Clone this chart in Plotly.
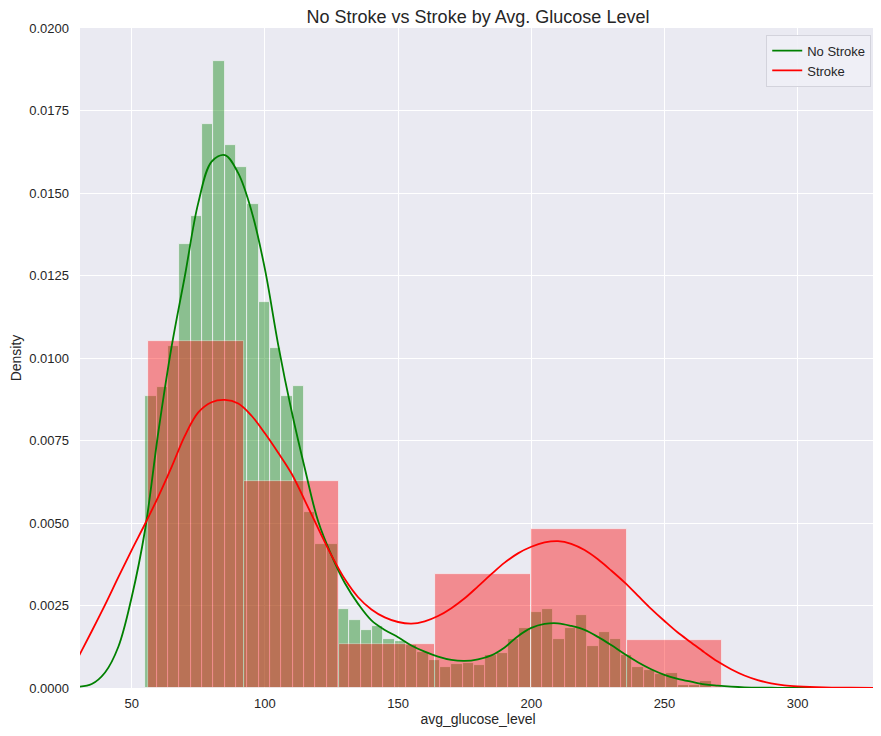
import numpy as np
import plotly.graph_objects as go

# ---- data ----
# No Stroke histogram: 50 equal bins between these limits (density)
no_stroke_bin_start = 55.12
no_stroke_bin_end = 267.76
no_stroke_density = [
    0.00886, 0.00912, 0.01036, 0.01344, 0.01429, 0.01709, 0.01900, 0.01646, 0.01579, 0.01467,
    0.01171, 0.01030, 0.00886, 0.00916, 0.00533, 0.00437, 0.00437, 0.00239, 0.00206, 0.00177,
    0.00188, 0.00149, 0.00142, 0.00131, 0.00108, 0.00084, 0.00065, 0.00074, 0.00077, 0.00070,
    0.00100, 0.00105, 0.00150, 0.00182, 0.00229, 0.00239, 0.00148, 0.00181, 0.00220, 0.00128,
    0.00171, 0.00148, 0.00100, 0.00065, 0.00055, 0.00043, 0.00046, 0.00009, 0.00009, 0.00020,
]

# Stroke histogram: 6 equal bins
stroke_bin_start = 56.11
stroke_bin_end = 271.74
stroke_density = [0.010504, 0.006258, 0.001341, 0.003464, 0.004805, 0.001453]

# KDE curves (every 5 units)
kde_x = [30, 35, 40, 45, 50, 55, 60, 65, 70, 75, 80, 85, 90, 95, 100, 105, 110, 115, 120, 125,
         130, 135, 140, 145, 150, 155, 160, 165, 170, 175, 180, 185, 190, 195, 200, 205, 210, 215,
         220, 225, 230, 235, 240, 245, 250, 255, 260, 265, 270, 275, 280, 285, 290, 295, 300, 310,
         320, 330]
no_stroke_kde = [0.00004, 0.00012, 0.00047, 0.00125, 0.00275, 0.00478, 0.00775, 0.01035, 0.01250,
                 0.01470, 0.01595, 0.01615, 0.01560, 0.01445, 0.01270, 0.01040, 0.00840, 0.00665,
                 0.00505, 0.00402, 0.00318, 0.00255, 0.00205, 0.00176, 0.00154, 0.00129, 0.00110,
                 0.00095, 0.00085, 0.00082, 0.00087, 0.00099, 0.00123, 0.00157, 0.00182, 0.00194,
                 0.00196, 0.00188, 0.00176, 0.00155, 0.00130, 0.00103, 0.00078, 0.00057, 0.00040,
                 0.00028, 0.00019, 0.00011, 0.00007, 0.00004, 0.00002, 0.00001, 0.00001, 0.00000,
                 0.00000, 0.00000, 0.00000, 0.00000]
stroke_kde = [0.00094, 0.00172, 0.00252, 0.00336, 0.00418, 0.00497, 0.00580, 0.00670, 0.00765,
              0.00835, 0.00866, 0.00873, 0.00862, 0.00825, 0.00772, 0.00713, 0.00650, 0.00568,
              0.00484, 0.00402, 0.00330, 0.00275, 0.00238, 0.00214, 0.00200, 0.00195, 0.00202,
              0.00218, 0.00242, 0.00272, 0.00308, 0.00345, 0.00380, 0.00408, 0.00428, 0.00441,
              0.00445, 0.00437, 0.00418, 0.00390, 0.00356, 0.00320, 0.00280, 0.00240, 0.00203,
              0.00168, 0.00138, 0.00108, 0.00080, 0.00057, 0.00038, 0.00024, 0.00014, 0.00008,
              0.00005, 0.00002, 0.00001, 0.00000]

y_ticks = [0.0, 0.0025, 0.005, 0.0075, 0.01, 0.0125, 0.015, 0.0175, 0.02]
x_ticks = [50, 100, 150, 200, 250, 300]

# ---- derived bar geometry ----
ns_edges = np.linspace(no_stroke_bin_start, no_stroke_bin_end, len(no_stroke_density) + 1)
ns_centers = (ns_edges[:-1] + ns_edges[1:]) / 2
ns_width = ns_edges[1] - ns_edges[0]
st_edges = np.linspace(stroke_bin_start, stroke_bin_end, len(stroke_density) + 1)
st_centers = (st_edges[:-1] + st_edges[1:]) / 2
st_width = st_edges[1] - st_edges[0]

FONT = "Liberation Sans, Arial, sans-serif"
TXT = "#262626"

fig = go.Figure()
fig.add_trace(go.Bar(
    x=ns_centers, y=no_stroke_density, width=[ns_width] * len(ns_centers),
    marker=dict(color="green", line=dict(color="white", width=0.8)),
    opacity=0.4, showlegend=False, hoverinfo="skip"))
fig.add_trace(go.Bar(
    x=st_centers, y=stroke_density, width=[st_width] * len(st_centers),
    marker=dict(color="red", line=dict(color="white", width=0.8)),
    opacity=0.4, showlegend=False, hoverinfo="skip"))
fig.add_trace(go.Scatter(
    x=kde_x, y=no_stroke_kde, mode="lines", name="No Stroke",
    line=dict(color="green", width=1.8, shape="spline", smoothing=1.0)))
fig.add_trace(go.Scatter(
    x=kde_x, y=stroke_kde, mode="lines", name="Stroke",
    line=dict(color="red", width=1.8, shape="spline", smoothing=1.0)))

# page body has an 8px default margin, so the figure is sized to fit the window
fig.update_layout(
    width=873, height=728,
    margin=dict(l=70, r=5, t=20, b=48),
    paper_bgcolor="white", plot_bgcolor="#EAEAF2",
    barmode="overlay", bargap=0,
    font=dict(family=FONT, size=13, color=TXT),
    title=dict(text="No Stroke vs Stroke by Avg. Glucose Level",
               x=0.5, xref="paper", xanchor="center",
               y=1 - 8.5 / 728, yref="container", yanchor="middle",
               font=dict(family=FONT, size=18, color=TXT)),
    legend=dict(x=0.994, xanchor="right", y=0.99, yanchor="top",
                bgcolor="rgba(240,240,246,0.9)", bordercolor="#d3d3dc", borderwidth=1,
                font=dict(family=FONT, size=13, color=TXT)),
    showlegend=True,
)
fig.update_xaxes(
    range=[30.6, 329.4], tickvals=x_ticks, showgrid=True, gridcolor="white", gridwidth=1.2,
    zeroline=False, showline=False, ticks="", ticklabelstandoff=6,
    title=dict(text="avg_glucose_level", standoff=4, font=dict(family=FONT, size=14, color=TXT)))
fig.update_yaxes(
    range=[0, 0.02], tickvals=y_ticks, tickformat=".4f", showgrid=True, gridcolor="white",
    gridwidth=1.2, zeroline=False, showline=False, ticks="", ticklabelstandoff=10,
    title=dict(text="Density", standoff=6, font=dict(family=FONT, size=14, color=TXT)))

fig.write_html("out.html")
